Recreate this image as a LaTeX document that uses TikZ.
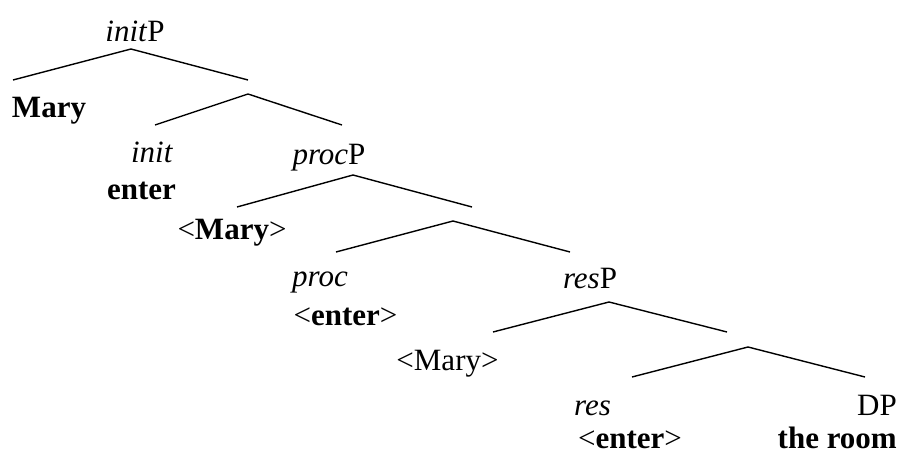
\documentclass[tikz,border=0pt]{standalone}
\usepackage{fontspec}
\setmainfont{Liberation Serif}
\begin{document}
\begin{tikzpicture}[x=1pt,y=-1pt,
  lbl/.style={inner sep=0pt,anchor=base,font=\fontsize{31}{37}\selectfont},
  branch/.style={line width=1.4pt,line join=miter}]
\useasboundingbox (0,0) rectangle (902,454);

% labels
\node[lbl] (initP) at (135,42) {\textit{init}P};
\node[lbl] (mary1) at (49,118) {\textbf{Mary}};
\node[lbl] (init) at (152,163) {\textit{init}};
\node[lbl] (enter1) at (141.5,200) {\textbf{enter}};
\node[lbl] (procP) at (329,165) {\textit{proc}P};
\node[lbl] (mary2) at (232,240) {<\textbf{Mary}>};
\node[lbl] (proc) at (320,287) {\textit{proc}};
\node[lbl] (enter2) at (345.5,325) {<\textbf{enter}>};
\node[lbl] (resP) at (590,288) {\textit{res}P};
\node[lbl] (mary3) at (447.5,370) {<Mary>};
\node[lbl] (res) at (592.5,415) {\textit{res}};
\node[lbl,anchor=base east] (DP) at (897,415) {DP};
\node[lbl] (enter3) at (630,448) {<\textbf{enter}>};
\node[lbl,anchor=base east] (room) at (897,448) {\textbf{the room}};

% branch points
\coordinate (a1) at (131,49);  \coordinate (l1) at (13,80);   \coordinate (r1) at (248,80);
\coordinate (a2) at (248,94);  \coordinate (l2) at (155,125); \coordinate (r2) at (342,125);
\coordinate (a3) at (353,175); \coordinate (l3) at (237,207); \coordinate (r3) at (472,207);
\coordinate (a4) at (453,221); \coordinate (l4) at (336,252); \coordinate (r4) at (570,252);
\coordinate (a5) at (609,302); \coordinate (l5) at (493,332); \coordinate (r5) at (727,332);
\coordinate (a6) at (748,347); \coordinate (l6) at (632,377); \coordinate (r6) at (865,377);

% branches
\draw[branch] (l1) -- (a1) -- (r1);
\draw[branch] (l2) -- (a2) -- (r2);
\draw[branch] (l3) -- (a3) -- (r3);
\draw[branch] (l4) -- (a4) -- (r4);
\draw[branch] (l5) -- (a5) -- (r5);
\draw[branch] (l6) -- (a6) -- (r6);
\end{tikzpicture}
\end{document}
